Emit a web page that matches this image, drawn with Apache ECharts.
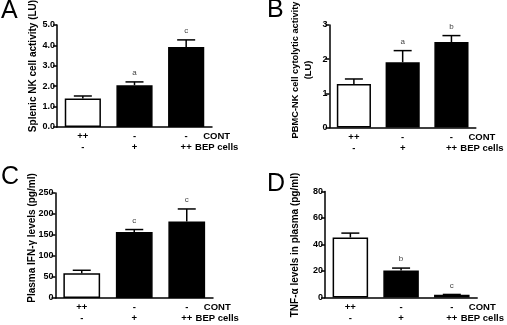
<!DOCTYPE html>
<html>
<head>
<meta charset="utf-8">
<script src="https://cdn.jsdelivr.net/npm/echarts@6/dist/echarts.min.js"></script>
<style>
  html, body { margin: 0; padding: 0; background: #fff; }
  #chart { width: 507px; height: 325px; }
</style>
</head>
<body>
<div id="chart"></div>
<script>
// group labels under each bar
const contRow = ['++', '-', '-'];
const bepRow = ['-', '+', '++'];
const rowNames = ['CONT', 'BEP cells'];

// A: splenic NK activity (LU)
const splenicNk = [1.40, 2.05, 3.92];
const splenicNkErr = [0.12, 0.16, 0.35];
const splenicNkSig = ['', 'a', 'c'];

// B: PBMC-NK cytolytic activity (LU)
const pbmcNk = [1.27, 1.91, 2.50];
const pbmcNkErr = [0.15, 0.34, 0.19];
const pbmcNkSig = ['', 'a', 'b'];

// C: plasma IFN-gamma (pg/ml)
const ifnG = [59, 157, 182];
const ifnGErr = [7, 6, 30];
const ifnGSig = ['', 'c', 'c'];

// D: plasma TNF-alpha (pg/ml)
const tnfA = [45.3, 20.4, 2.0];
const tnfAErr = [3.3, 1.8, 0.3];
const tnfASig = ['', 'b', 'c'];

const FONT = '"Liberation Sans", Arial, sans-serif';

let chart = echarts.init(document.getElementById('chart'));

// panel layout: grid box + y axis scale
const panels = [
    { vals: splenicNk, err: splenicNkErr, sig: splenicNkSig, grid: { left: 57, top: 25, width: 155, height: 102 }, max: 5, step: 1, fmt: v => v.toFixed(1) },
    { vals: pbmcNk, err: pbmcNkErr, sig: pbmcNkSig, grid: { left: 329.5, top: 25, width: 152, height: 102.5 }, max: 3, step: 1, fmt: v => String(v) },
    { vals: ifnG, err: ifnGErr, sig: ifnGSig, grid: { left: 55.5, top: 193, width: 157.5, height: 105 }, max: 250, step: 50, fmt: v => String(v) },
    { vals: tnfA, err: tnfAErr, sig: tnfASig, grid: { left: 325, top: 191.5, width: 160, height: 106 }, max: 80, step: 20, fmt: v => String(v) }
];

function catLabel(value, idx) {
    if (idx === 2) {
        return '{p| }{c|' + contRow[idx] + '}{t|' + rowNames[0] + '}\n{p| }{c|' + bepRow[idx] + '}{t|' + rowNames[1] + '}';
    }
    return '{c|' + contRow[idx] + '}\n{c|' + bepRow[idx] + '}';
}

let grids = [], xAxes = [], yAxes = [], series = [];

panels.forEach((p, k) => {
    grids.push(p.grid);
    xAxes.push({
        type: 'category',
        gridIndex: k,
        data: [0, 1, 2].map(String),
        axisLine: { lineStyle: { color: '#000', width: 1.5 } },
        axisTick: { show: false },
        axisLabel: {
            margin: 4,
            interval: 0,
            formatter: catLabel,
            lineHeight: 11,
            rich: {
                c: { width: 15, align: 'center', fontFamily: FONT, fontWeight: 'bold', fontSize: 9.5, color: '#000', lineHeight: 11 },
                t: { width: 46, align: 'left', fontFamily: FONT, fontWeight: 'bold', fontSize: 9.5, color: '#000', lineHeight: 11 },
                p: { width: 46, fontSize: 9.5, lineHeight: 11 }
            }
        }
    });
    yAxes.push({
        type: 'value',
        gridIndex: k,
        min: 0,
        max: p.max,
        interval: p.step,
        axisLine: { show: true, lineStyle: { color: '#000', width: 1.5 } },
        axisTick: { show: true, length: 4, lineStyle: { color: '#000', width: 1.5 } },
        splitLine: { show: false },
        axisLabel: { margin: 2, formatter: p.fmt, fontFamily: FONT, fontWeight: 'bold', fontSize: 9, color: '#000' }
    });
    series.push({
        type: 'bar',
        xAxisIndex: k,
        yAxisIndex: k,
        barWidth: '70%',
        data: p.vals.map((v, i) => ({
            value: v,
            itemStyle: { color: i === 0 ? '#fff' : '#000', borderColor: '#000', borderWidth: 1.5 }
        })),
        z: 2
    });
    // upper error bar + significance letter
    series.push({
        type: 'custom',
        xAxisIndex: k,
        yAxisIndex: k,
        data: p.vals.map((v, i) => [i, v, v + p.err[i]]),
        z: 3,
        renderItem: function (params, api) {
            let base = api.coord([api.value(0), api.value(1)]);
            let top = api.coord([api.value(0), api.value(2)]);
            let st = { stroke: '#000', lineWidth: 1.5 };
            let kids = [
                { type: 'line', shape: { x1: base[0], y1: base[1], x2: top[0], y2: top[1] }, style: st },
                { type: 'line', shape: { x1: top[0] - 9, y1: top[1], x2: top[0] + 9, y2: top[1] }, style: st }
            ];
            let s = p.sig[params.dataIndex];
            if (s) {
                kids.push({
                    type: 'text',
                    x: top[0], y: top[1] - 5,
                    style: { text: s, fill: '#444', font: '8px ' + FONT, textAlign: 'center', textVerticalAlign: 'bottom' }
                });
            }
            return { type: 'group', children: kids };
        }
    });
});

// axis titles and panel letters
function vtitle(text, x, y, size) {
    return {
        type: 'text', x: x, y: y, rotation: Math.PI / 2,
        style: { text: text, font: 'bold ' + (size || 10) + 'px ' + FONT, fill: '#000', textAlign: 'center', textVerticalAlign: 'middle', lineHeight: 13 }
    };
}
function letter(text, x, y) {
    return { type: 'text', x: x, y: y, style: { text: text, font: '25px ' + FONT, fill: '#000' } };
}

let option = {
    animation: false,
    backgroundColor: '#fff',
    grid: grids,
    xAxis: xAxes,
    yAxis: yAxes,
    series: series,
    graphic: [
        vtitle('Splenic NK cell activity (LU)', 33, 66),
        vtitle('PBMC-NK cell cytolytic activity\n(LU)', 302, 70, 9.3),
        vtitle('Plasma IFN-\u03b3 levels (pg/ml)', 32, 238),
        vtitle('TNF-\u03b1 levels in plasma (pg/ml)', 295, 245),
        letter('A', 1, -1),
        letter('B', 267, -2),
        letter('C', 1, 165),
        letter('D', 267, 172)
    ]
};

chart.setOption(option);
</script>
</body>
</html>
